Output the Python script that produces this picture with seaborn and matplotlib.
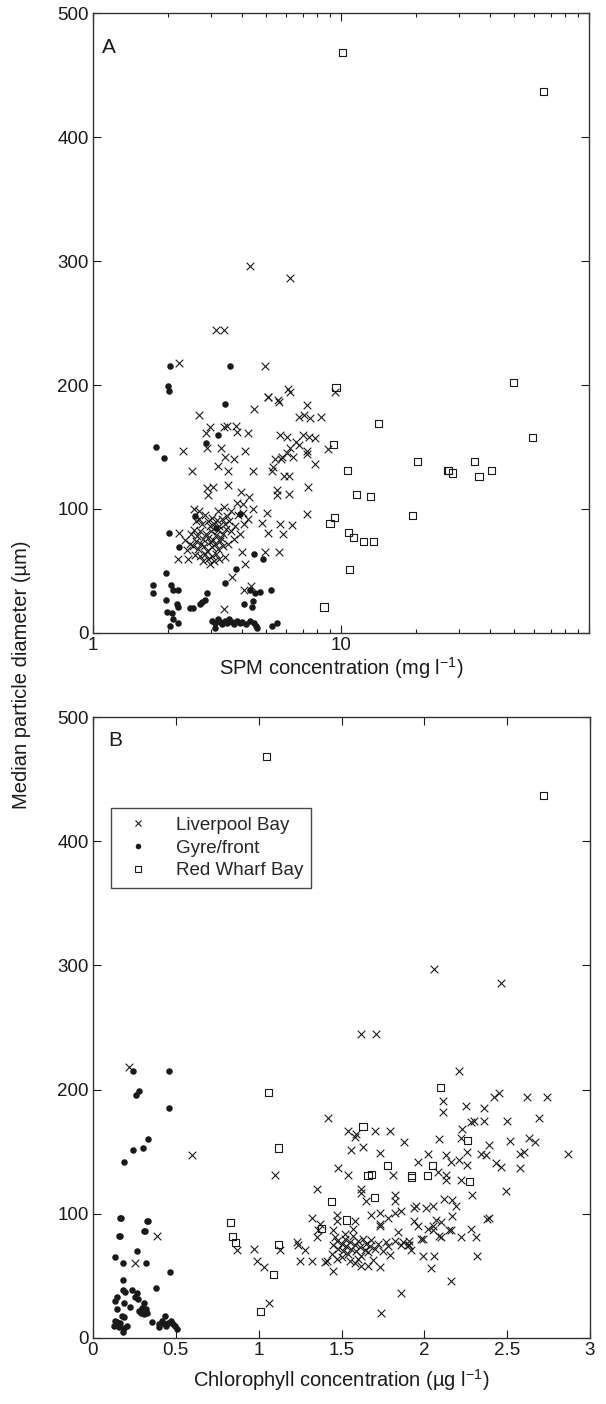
import numpy as np
import pandas as pd
import matplotlib
matplotlib.use("Agg")
import matplotlib.pyplot as plt
import seaborn as sns
from matplotlib.ticker import FixedLocator, NullFormatter, FixedFormatter
from matplotlib.lines import Line2D

# ---------------- data: panel A (SPM, mg l-1 vs median diameter, um) ----------------
lb_spm = [4.30, 6.23, 3.13, 3.38, 2.22, 4.94, 5.1, 5.56, 6.1, 6.2, 9.45,
          4.46, 5.08, 5.62, 7.30, 2.68, 6.77, 7.10, 7.50, 8.30,
          2.96, 3.38, 3.47, 3.77, 2.85, 3.81, 4.21, 5.68, 6.05, 7.03, 7.43, 7.85,
          6.58, 6.77, 8.87, 2.88, 3.28, 4.10, 2.31, 6.23, 6.05, 5.78, 5.42, 5.72, 5.31,
          7.3, 7.3, 6.4, 3.41, 3.70, 3.19, 7.85, 2.51, 3.50, 4.42, 5.27,
          5.88, 6.17, 7.37, 3.05, 3.50, 2.88, 2.91, 3.95, 4.26, 5.52, 5.52, 6.17,
          3.81, 4.03, 3.38, 2.68, 3.19, 4.03, 5.03, 7.3, 4.8, 5.08, 5.68, 6.35, 5.83,
          2.22, 2.20, 2.42, 3.41, 3.99, 4.10, 4.94, 5.62, 3.63, 4.07, 4.33, 3.38,
          2.60, 2.68, 2.75, 2.82, 2.90, 2.95, 3.02, 3.08, 3.15, 3.22, 3.30, 3.40, 3.48, 3.55,
          2.48, 2.55, 2.62, 2.70, 2.78, 2.85, 2.92, 3.00, 3.05, 3.12, 3.20, 3.28, 3.35, 3.45,
          3.60, 3.75, 3.90, 4.05, 2.45, 2.52, 2.60, 2.66, 2.72, 2.80, 2.88, 2.95, 3.02, 3.10,
          3.18, 3.25, 3.35, 3.50, 3.70, 2.58, 2.70, 2.78, 2.84, 2.90, 2.96, 3.02, 3.08, 3.14,
          3.22, 2.35, 2.40, 3.85, 4.20, 4.40, 2.55, 3.60]
lb_diam_a = [296, 286, 244, 244, 218, 215, 190, 188, 197, 194, 194,
             181, 190, 186, 184, 176, 174, 176, 173, 174,
             166, 166, 167, 167, 161, 162, 161, 160, 158, 160, 158, 157,
             154, 152, 148, 149, 149, 147, 147, 149, 145, 142, 140, 140, 134,
             147, 144, 142, 142, 140, 135, 136, 131, 131, 131, 131,
             127, 127, 118, 118, 119, 117, 111, 114, 110, 115, 111, 112,
             105, 104, 102, 98, 98, 97, 97, 96, 89, 81, 88, 87, 80,
             81, 60, 60, 61, 65, 56, 65, 65, 45, 35, 38, 19,
             90, 92, 88, 95, 90, 86, 93, 88, 91, 86, 92, 88, 94, 90,
             80, 83, 78, 82, 76, 80, 77, 82, 75, 79, 83, 77, 80, 84,
             82, 86, 80, 88, 72, 70, 74, 68, 72, 70, 66, 73, 69, 72,
             68, 74, 70, 72, 76, 63, 62, 58, 64, 60, 56, 62, 58, 64,
             60, 75, 67, 95, 92, 100, 100, 98]

gf_spm = [2.04, 3.57, 2.0, 2.02, 3.41, 2.85, 1.79, 1.93, 3.19,
          3.91, 2.58, 2.02, 3.13, 2.22, 4.46, 4.85, 3.77, 1.97,
          1.75, 1.75, 2.06, 2.10, 2.20, 3.41, 4.3, 4.5, 4.7, 5.22, 1.97,
          2.18, 2.20, 2.46, 2.70, 2.83, 2.88, 2.75,
          1.99, 2.08, 2.10, 2.04, 4.07, 4.42, 4.38, 2.53,
          3.02, 3.10, 3.18, 3.25, 3.32, 3.40, 3.48, 3.55, 3.62, 3.70, 3.80, 3.90,
          4.00, 4.15, 4.30, 4.45, 4.55, 5.27, 5.52, 4.59, 3.10, 2.20]
gf_diam_a = [215, 215, 199, 195, 185, 153, 150, 141, 160,
             96, 94, 81, 85, 69, 64, 60, 52, 48,
             39, 32, 39, 35, 35, 40, 35, 32, 33, 35, 27,
             23, 21, 20, 23, 27, 32, 25,
             17, 16, 11, 6, 23, 26, 21, 20,
             10, 8, 11, 9, 7, 10, 8, 11, 9, 7, 10, 8,
             9, 7, 10, 8, 6, 6, 8, 4, 4, 8]

rw_spm = [10.1, 65.3, 9.55, 9.30, 14.2, 59.4, 49.4, 20.4, 27.0, 27.2, 28.1, 34.4, 36.0,
          40.3, 10.6, 11.5, 13.2, 19.4, 9.45, 9.03, 10.7, 11.2, 12.3, 13.5, 10.8, 8.54]
rw_diam_a = [468, 437, 198, 152, 169, 158, 202, 138, 131, 131, 129, 138, 126,
             131, 131, 112, 110, 95, 93, 88, 81, 77, 74, 74, 51, 21]

# ---------------- data: panel B (chlorophyll, ug l-1 vs median diameter, um) ----------------
lb_chl = [2.06, 2.46, 1.62, 1.71, 2.21, 0.22,
          2.45, 2.42, 2.62, 2.74, 2.11, 2.11, 2.25, 2.36,
          1.42, 2.28, 2.30, 2.36, 2.50, 2.69,
          1.54, 1.58, 1.59, 1.70, 1.79, 1.88, 2.09, 2.23, 2.22,
          2.52, 2.63, 2.67, 2.87, 1.56, 1.63, 1.73,
          2.02, 1.96, 2.13, 2.16, 2.21, 2.26, 2.26, 2.34, 2.37, 2.39, 2.43, 2.46, 2.58, 2.60, 2.58,
          1.48, 1.54, 1.81, 2.08, 2.13, 2.13, 2.22,
          1.35, 1.62, 1.62, 1.65, 1.82, 1.82, 2.12, 2.17, 2.19, 2.29, 2.49,
          1.95, 2.05, 1.86, 1.82, 1.78, 1.73, 1.68, 1.32, 1.47, 1.47, 1.58, 1.73, 1.73, 1.94, 1.96,
          2.02, 2.05, 2.07, 2.10, 2.17, 2.16, 2.39, 2.22, 2.28, 2.31,
          1.35, 1.45, 1.46, 1.84, 1.87, 1.91, 1.99, 2.10,
          0.60, 1.10, 0.385, 0.254,
          0.87, 0.97, 0.99, 1.03, 1.06, 1.13, 1.23, 1.24, 1.25, 1.32, 1.28,
          1.37, 1.36, 1.40, 1.41, 1.45, 1.50, 1.66, 1.73, 1.74, 1.79, 1.77, 1.86, 1.82, 1.86,
          1.91, 1.92, 1.90, 1.98, 1.99, 2.05, 2.06, 2.04, 2.09, 2.16, 2.15, 2.32, 2.38, 1.94, 2.01,
          1.45, 1.47, 1.48, 1.50, 1.51, 1.52, 1.53, 1.54, 1.55, 1.56, 1.57, 1.58, 1.59, 1.60,
          1.61, 1.62, 1.63, 1.64, 1.65, 1.66, 1.67, 1.68, 1.70, 1.72, 1.55, 1.58, 1.60, 1.62,
          1.52, 1.57, 1.44, 1.47, 1.69, 1.75, 1.78]
lb_diam_b = [297, 286, 245, 245, 215, 218,
             197, 194, 194, 194, 191, 182, 187, 185,
             177, 174, 175, 175, 175, 177,
             167, 162, 164, 167, 167, 158, 160, 168, 161,
             159, 161, 158, 148, 151, 154, 149,
             148, 142, 147, 142, 143, 150, 139, 148, 147, 155, 141, 138, 148, 150, 137,
             137, 131, 131, 134, 131, 127, 127,
             120, 120, 117, 110, 115, 110, 112, 111, 106, 115, 118,
             106, 106, 102, 101, 97, 101, 99, 97, 99, 94, 94, 92, 90, 94, 90,
             88, 90, 95, 93, 98, 87, 97, 81, 88, 81,
             81, 87, 81, 85, 77, 75, 80, 81,
             147, 131, 82, 60,
             71, 72, 62, 57, 28, 71, 77, 75, 62, 62, 71,
             92, 87, 61, 62, 54, 65, 58, 57, 20, 67, 77, 36, 78, 75,
             78, 71, 75, 80, 66, 87, 66, 56, 82, 46, 87, 66, 96, 105, 105,
             75, 78, 72, 76, 70, 80, 74, 68, 77, 72, 82, 75, 70, 78,
             73, 66, 80, 71, 76, 69, 74, 79, 72, 76, 62, 60, 64, 58,
             84, 88, 68, 64, 63, 70, 74]

gf_chl = [0.24, 0.46, 0.28, 0.26, 0.46, 0.33, 0.24, 0.30, 0.19,
          0.17, 0.33, 0.16, 0.31, 0.163, 0.327, 0.154, 0.313,
          0.266, 0.133, 0.18, 0.32, 0.467, 0.18, 0.383, 0.18, 0.196,
          0.238, 0.266, 0.254, 0.273, 0.145, 0.133, 0.19, 0.226,
          0.308, 0.297, 0.32, 0.278, 0.29, 0.308, 0.327, 0.145,
          0.175, 0.19, 0.355, 0.133, 0.145, 0.161, 0.126, 0.156, 0.19, 0.208, 0.184,
          0.437, 0.418, 0.397, 0.453, 0.472, 0.483, 0.495, 0.441, 0.42, 0.40, 0.507]
gf_diam_b = [215, 215, 199, 196, 185, 160, 151, 153, 142,
             97, 94, 82, 86, 97, 94, 82, 86,
             70, 65, 60, 60, 53, 47, 40, 39, 37,
             39, 36, 33, 31, 33, 30, 28, 25,
             28, 24, 23, 22, 20, 19, 20, 23,
             18, 17, 13, 14, 13, 12, 10, 9, 8, 10, 5,
             18, 14, 11, 12, 14, 11, 10, 10, 12, 9, 7]

rw_chl = [1.05, 2.72, 2.10, 1.06, 1.63, 1.12, 2.26, 2.05, 1.78, 1.66, 1.68, 1.92, 1.92,
          2.02, 2.27, 1.70, 1.44, 1.53, 1.38, 0.83, 0.84, 0.86, 1.12, 1.09, 1.01]
rw_diam_b = [468, 437, 202, 198, 170, 153, 159, 139, 139, 131, 132, 131, 129,
             131, 126, 113, 110, 95, 88, 93, 82, 77, 75, 51, 21]

groups = ["Liverpool Bay", "Gyre/front", "Red Wharf Bay"]
ytick_vals = [0, 100, 200, 300, 400, 500]
chl_ticks = [0, 0.5, 1, 1.5, 2, 2.5, 3]
chl_labels = ["0", "0.5", "1", "1.5", "2", "2.5", "3"]

# ---------------- style ----------------
sns.set_theme(style="ticks")
plt.rcParams["font.family"] = ["Liberation Sans", "DejaVu Sans"]
plt.rcParams["mathtext.fontset"] = "custom"
plt.rcParams["mathtext.rm"] = "Liberation Sans"
plt.rcParams["mathtext.it"] = "Liberation Sans:italic"
plt.rcParams["mathtext.default"] = "regular"
INK = "#1a1a1a"

fig = plt.figure(figsize=(6.06, 14.04), dpi=100)
W, H = 606, 1404
axA = fig.add_axes([93 / W, 1 - 633 / H, 496 / W, 620 / H])
axB = fig.add_axes([93 / W, 1 - 1338 / H, 497 / W, 621 / H])

def draw(ax, xs, ys):
    (x1, x2, x3), (y1, y2, y3) = xs, ys
    sns.scatterplot(x=x1, y=y1, ax=ax, marker="x", s=30, color=INK, linewidth=0.8,
                    label=groups[0], legend=False, zorder=3)
    sns.scatterplot(x=x2, y=y2, ax=ax, marker="o", s=22, color=INK, edgecolor=INK,
                    linewidth=0, label=groups[1], legend=False, zorder=3)
    sns.scatterplot(x=x3, y=y3, ax=ax, marker="s", s=26, facecolor="none", edgecolor=INK,
                    linewidth=0.8, label=groups[2], legend=False, zorder=3)

draw(axA, (lb_spm, gf_spm, rw_spm), (lb_diam_a, gf_diam_a, rw_diam_a))
draw(axB, (lb_chl, gf_chl, rw_chl), (lb_diam_b, gf_diam_b, rw_diam_b))

for ax in (axA, axB):
    ax.set_ylim(0, 500)
    ax.yaxis.set_major_locator(FixedLocator(ytick_vals))
    ax.tick_params(which="both", direction="in", top=True, right=True, colors=INK,
                   labelsize=13.5, width=0.8)
    ax.tick_params(which="major", length=6, pad=3)
    ax.tick_params(which="minor", length=3)
    for sp in ax.spines.values():
        sp.set_color("#333333")
        sp.set_linewidth(1.0)
    ax.set_ylabel("")

# Panel A: log x
axA.set_xscale("log")
axA.set_xlim(1, 100)
axA.xaxis.set_major_locator(FixedLocator([1, 10, 100]))
axA.xaxis.set_major_formatter(FixedFormatter(["1", "10", ""]))
axA.xaxis.set_minor_locator(FixedLocator([m * d for d in (1, 10) for m in range(2, 10)]))
axA.xaxis.set_minor_formatter(NullFormatter())
axA.set_xlabel("SPM concentration (mg l$^{-1}$)", fontsize=14.5, labelpad=1, color=INK)
axA.text(0.032, 0.945, "A", transform=axA.transAxes, fontsize=15, ha="center", va="center", color=INK)

# Panel B
axB.set_xlim(0, 3)
axB.xaxis.set_major_locator(FixedLocator(chl_ticks))
axB.xaxis.set_major_formatter(FixedFormatter(chl_labels))
axB.set_xlabel("Chlorophyll concentration (µg l$^{-1}$)", fontsize=14.5, labelpad=6, color=INK)
axB.text(0.045, 0.962, "B", transform=axB.transAxes, fontsize=15, ha="center", va="center", color=INK)

handles = [
    Line2D([], [], marker="x", ls="none", color=INK, ms=5, mew=0.8),
    Line2D([], [], marker="o", ls="none", color=INK, ms=4, mew=0),
    Line2D([], [], marker="s", ls="none", mfc="none", mec=INK, ms=5, mew=0.8),
]
leg = axB.legend(handles, groups, loc="upper left", bbox_to_anchor=(0.036, 0.853),
                 frameon=True, fancybox=False, fontsize=13.5, borderpad=0.45,
                 handletextpad=1.0, labelspacing=0.3, borderaxespad=0, handlelength=2.0)
leg.get_frame().set_edgecolor(INK)
leg.get_frame().set_linewidth(1.0)

fig.text(22 / W, 1 - 675 / H, "Median particle diameter (µm)", rotation=90,
         ha="center", va="center", fontsize=14.5, color=INK)

fig.savefig("out.png", dpi=100)
